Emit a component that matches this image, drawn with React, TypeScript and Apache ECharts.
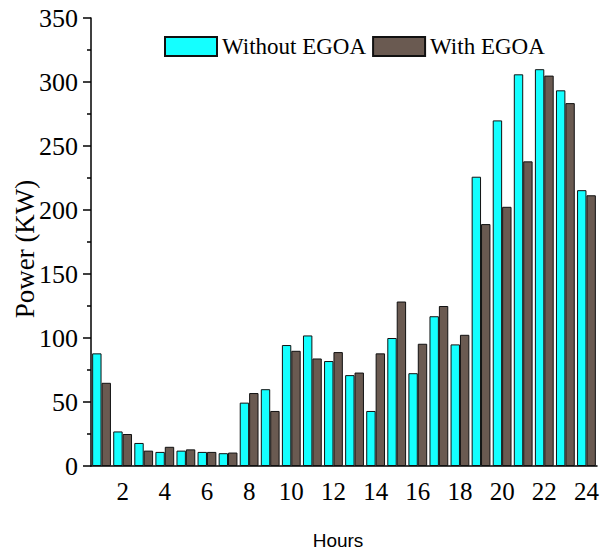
import React, { useEffect, useRef } from "react";
import * as echarts from "echarts";

// Hourly power demand, with and without EGOA scheduling
const hours = ["1","2","3","4","5","6","7","8","9","10","11","12","13","14","15","16","17","18","19","20","21","22","23","24"];
const withoutEgoa = [88, 27, 18, 11, 12, 11, 10, 49.5, 60, 94.5, 102, 82, 71, 43, 100, 72.5, 117, 95, 226, 270, 306, 310, 293.5, 215.5];
const withEgoa = [65, 25, 12, 15, 13, 11, 10.5, 57, 43, 90, 84, 89, 73, 88, 128.5, 95.5, 125, 102.5, 189, 202.5, 238, 305, 283.5, 211.5];
const seriesNames = ["Without EGOA", "With EGOA"];

const SERIF = "'Liberation Serif', 'Times New Roman', serif";
const SANS = "'Liberation Sans', Arial, sans-serif";

export default function App() {
  const ref = useRef<HTMLDivElement>(null);

  useEffect(() => {
    if (!ref.current) return;
    const chart = echarts.init(ref.current, null, { renderer: "svg" });
    const isEven = (i: number) => i % 2 === 1;
    chart.setOption({
      animation: false,
      backgroundColor: "#ffffff",
      grid: { left: 91, right: 6, top: 18, bottom: 83, containLabel: false },
      legend: {
        left: 159,
        top: 30,
        icon: "rect",
        itemWidth: 52,
        itemHeight: 19,
        itemGap: 6,
        textStyle: { fontFamily: SERIF, fontSize: 23, color: "#000" },
        data: seriesNames,
      },
      xAxis: [
        {
          type: "category",
          data: hours,
          boundaryGap: true,
          axisLine: { lineStyle: { color: "#000", width: 1.5 } },
          axisTick: {
            alignWithLabel: true,
            interval: (i: number) => isEven(i),
            length: 8,
            lineStyle: { color: "#000", width: 1.5 },
          },
          axisLabel: {
            interval: (i: number) => isEven(i),
            fontFamily: SERIF,
            fontSize: 25,
            color: "#000",
            margin: 13,
          },
          splitLine: { show: false },
        },
        {
          type: "category",
          data: hours,
          boundaryGap: true,
          position: "bottom",
          axisLine: { show: false },
          axisTick: {
            alignWithLabel: true,
            interval: 0,
            length: 4,
            lineStyle: { color: "#000", width: 1.5 },
          },
          axisLabel: { show: false },
          splitLine: { show: false },
        },
      ],
      yAxis: {
        type: "value",
        min: 0,
        max: 350,
        interval: 50,
        axisLine: { show: true, lineStyle: { color: "#000", width: 1.5 } },
        axisTick: { show: true, length: 8, lineStyle: { color: "#000", width: 1.5 } },
        minorTick: { show: true, splitNumber: 2, length: 4, lineStyle: { color: "#000", width: 1.5 } },
        axisLabel: { fontFamily: SERIF, fontSize: 26, color: "#000", margin: 13 },
        splitLine: { show: false },
      },
      graphic: [
        {
          type: "text",
          x: 25,
          y: 249,
          rotation: Math.PI / 2,
          style: {
            text: "Power (KW)",
            fontFamily: SERIF,
            fontSize: 27,
            fill: "#000",
            align: "center",
            verticalAlign: "middle",
          },
        },
        {
          type: "text",
          x: 338,
          y: 540,
          style: {
            text: "Hours",
            fontFamily: SANS,
            fontSize: 19,
            fill: "#000",
            align: "center",
            verticalAlign: "middle",
          },
        },
      ],
      series: [
        {
          name: seriesNames[0],
          type: "bar",
          data: withoutEgoa,
          barWidth: 9.4,
          barGap: "0%",
          itemStyle: { color: "#14ffff", borderColor: "#111", borderWidth: 1 },
        },
        {
          name: seriesNames[1],
          type: "bar",
          data: withEgoa,
          barWidth: 9.4,
          barGap: "0%",
          itemStyle: { color: "#6a5a51", borderColor: "#111", borderWidth: 1 },
        },
      ],
    });
    return () => chart.dispose();
  }, []);

  return (
    <div
      ref={ref}
      style={{ position: "fixed", left: 0, top: 0, width: 603, height: 549, background: "#fff" }}
    />
  );
}
